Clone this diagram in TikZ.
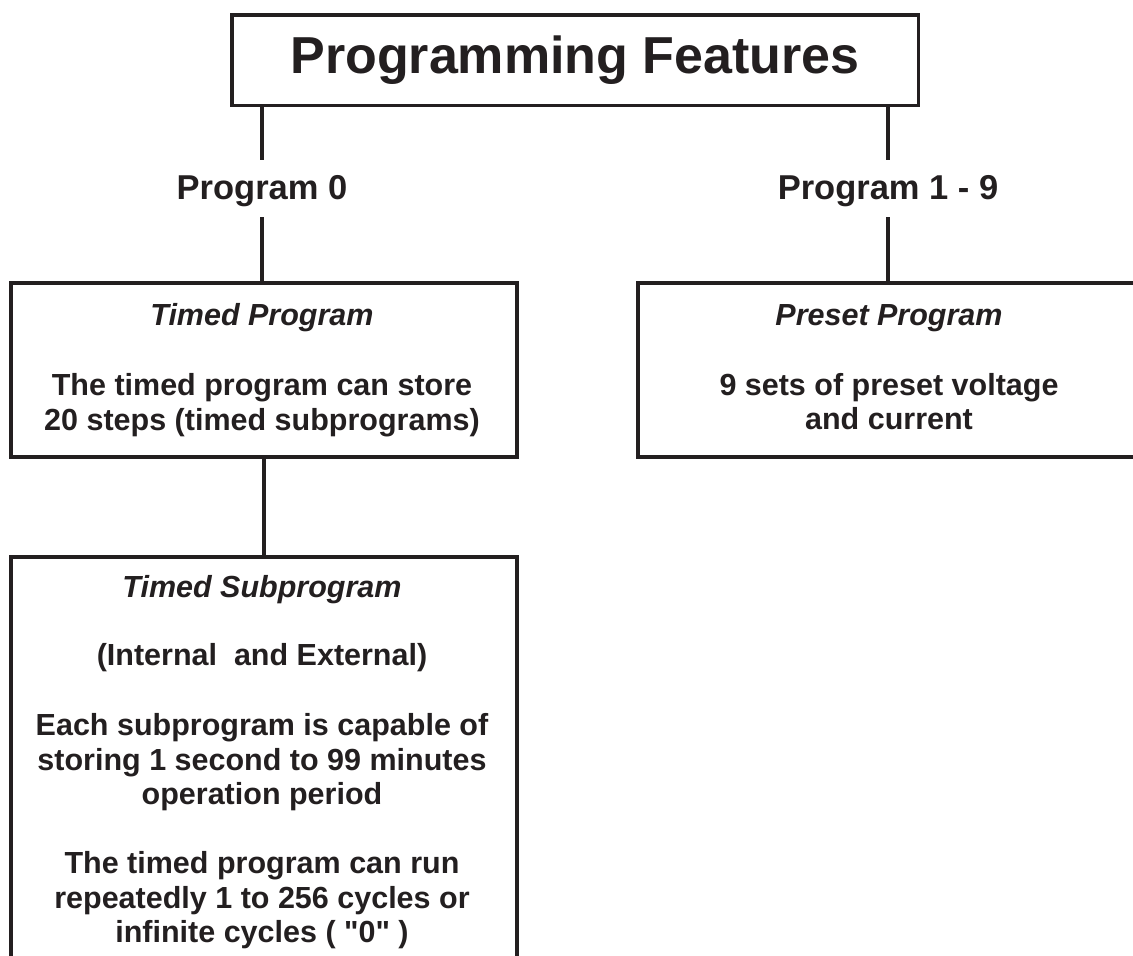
\documentclass[tikz,border=0pt]{standalone}
\usepackage{fontspec}
\newfontfamily\lib{Liberation Sans}
\definecolor{ink}{RGB}{35,31,32}
\begin{document}
\begin{tikzpicture}[x=1pt,y=-1pt,
  box/.style={draw=ink, line width=3.5pt, rectangle, inner sep=0pt},
  conn/.style={draw=ink, line width=3.5pt},
  txt/.style={text=ink, font=\lib\bfseries\fontsize{30.5}{35}\selectfont, anchor=base, inner sep=0pt},
  hd/.style={txt, font=\lib\bfseries\itshape\fontsize{30.5}{35}\selectfont},
  lbl/.style={text=ink, font=\lib\bfseries\fontsize{34.5}{40}\selectfont, anchor=base, text height=24pt, text depth=3pt, inner xsep=0pt, inner ysep=15pt}]
\useasboundingbox (0,0) rectangle (1133,956);

% title
\node[box, minimum width=686.5pt, minimum height=90.5pt, text=ink,
      font=\lib\bfseries\fontsize{52}{60}\selectfont] (title) at (575,60) {Programming Features};

% program labels
\node[lbl] (p0) at (262,199) {Program 0};
\node[lbl] (p19) at (888,199) {Program 1 - 9};

% boxes
\node[box, minimum width=506pt, minimum height=174pt] (tp) at (264,370) {};
\node[box, minimum width=512pt, minimum height=174pt] (pp) at (894,370) {};
\node[box, minimum width=506pt, minimum height=450pt] (ts) at (264,782) {};

% connectors
\draw[conn] (title.south -| p0.north) -- (p0.north);
\draw[conn] (p0.south) -- (p0.south |- tp.north);
\draw[conn] (title.south -| p19.north) -- (p19.north);
\draw[conn] (p19.south) -- (p19.south |- pp.north);
\draw[conn] (tp.south) -- (ts.north);

% Timed Program text
\node[hd]  (tp1) at (262,325) {Timed Program};
\node[txt] (tp2) at (262,395) {The timed program can store};
\node[txt] (tp3) at (262,430) {20 steps (timed subprograms)};

% Preset Program text
\node[hd]  (pp1) at (889,325) {Preset Program};
\node[txt] (pp2) at (889,395) {9 sets of preset voltage};
\node[txt] (pp3) at (889,429) {and current};

% Timed Subprogram text
\node[hd]  (ts1) at (262,597) {Timed Subprogram};
\node[txt] (ts2) at (262,665) {(Internal\ \ and External)};
\node[txt] (ts3) at (262,735) {Each subprogram is capable of};
\node[txt] (ts4) at (262,770) {storing 1 second to 99 minutes};
\node[txt] (ts5) at (262,804) {operation period};
\node[txt] (ts6) at (262,873) {The timed program can run};
\node[txt] (ts7) at (262,908) {repeatedly 1 to 256 cycles or};
\node[txt] (ts8) at (262,942) {infinite cycles ( "0" )};
\end{tikzpicture}
\end{document}
